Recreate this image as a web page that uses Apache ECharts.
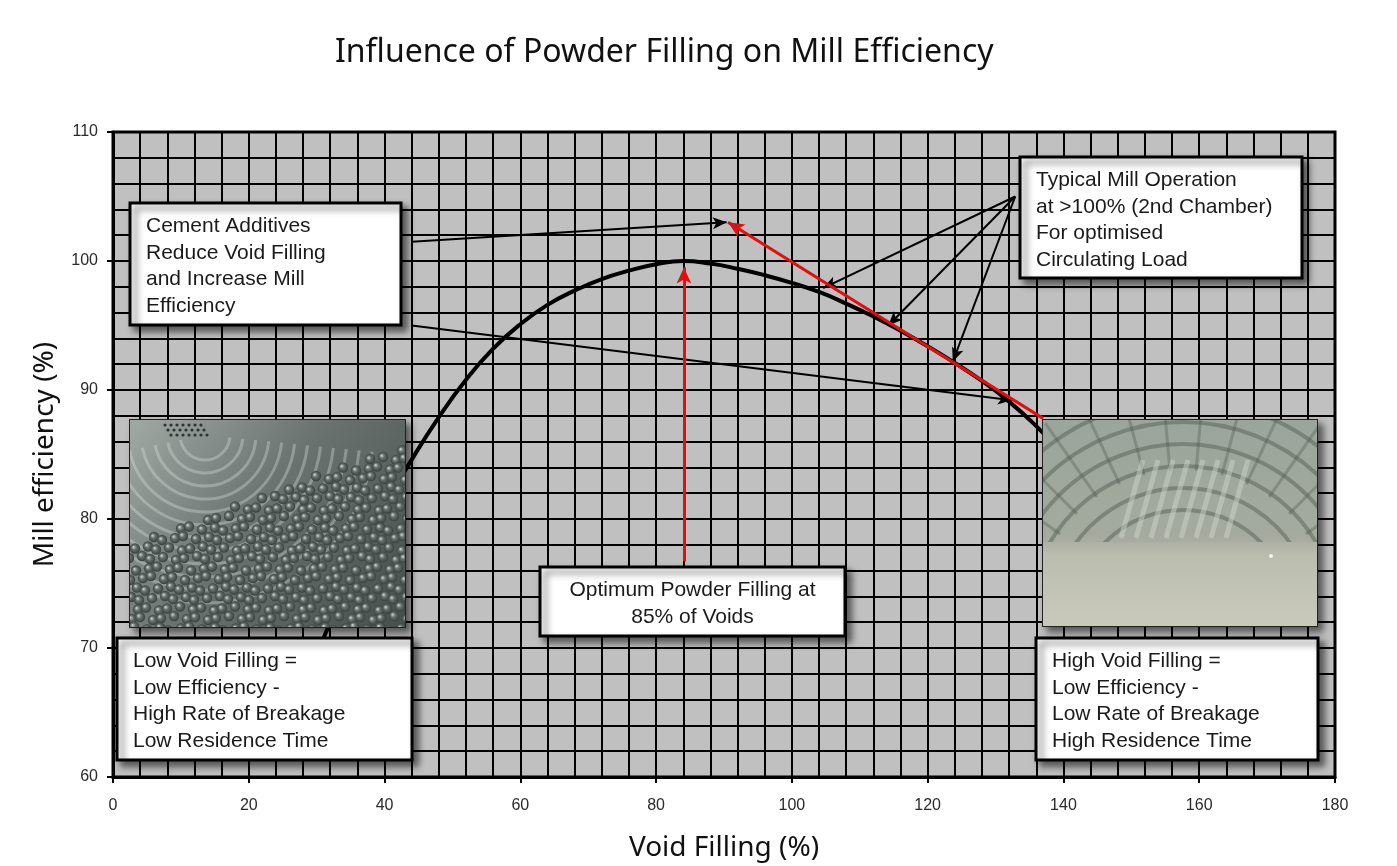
<!DOCTYPE html>
<html>
<head>
<meta charset="utf-8">
<title>Influence of Powder Filling on Mill Efficiency</title>
<script src="https://cdn.jsdelivr.net/npm/echarts@6/dist/echarts.min.js"></script>
<style>
  html, body { margin: 0; padding: 0; background: #fff; }
  #main { width: 1397px; height: 866px; }
</style>
</head>
<body>
<div id="main"></div>
<script>
// curve (void filling %, mill efficiency %)
var voidFilling = [28, 32, 36, 40, 44, 48, 52, 56, 60, 64, 68, 72, 76, 80, 84, 88, 92, 96, 100, 104, 108, 112, 116, 120, 124, 128, 132, 136, 140];
var millEfficiency = [67, 72, 76.8, 81, 84.6, 87.9, 90.8, 93.2, 95.1, 96.6, 97.7, 98.6, 99.25, 99.75, 100, 99.8, 99.4, 98.9, 98.3, 97.6, 96.7, 95.7, 94.6, 93.4, 92.1, 90.7, 89.1, 87.2, 85.0];

// axis ticks
var xTicks = [0, 20, 40, 60, 80, 100, 120, 140, 160, 180];
var yTicks = [60, 70, 80, 90, 100, 110];

// annotation arrows in data units: [x1, y1, x2, y2]
var blackArrows = [
  [44.0, 101.5, 90.4, 103.0],
  [44.0, 95.0, 132.4, 89.2],
  [132.9, 105.0, 104.6, 97.9],
  [132.9, 105.0, 114.2, 95.0],
  [132.9, 105.0, 123.7, 92.2]
];
var redArrows = [
  [137.0, 87.8, 90.6, 103.0],
  [84.1, 76.7, 84.1, 99.5]
];

var chart = echarts.init(document.getElementById('main'));

// little stand-ins for the two photos
function ballsPhoto(w, h) {
  var c = document.createElement('canvas');
  c.width = w; c.height = h;
  var g = c.getContext('2d');
  var bg = g.createLinearGradient(0, 0, w, h);
  bg.addColorStop(0, '#a1a9a5');
  bg.addColorStop(0.45, '#6a7370');
  bg.addColorStop(1, '#474f4d');
  g.fillStyle = bg;
  g.fillRect(0, 0, w, h);
  // liner rings
  g.strokeStyle = 'rgba(220,226,222,0.35)';
  g.lineWidth = 3;
  for (var r = 25; r < 170; r += 13) {
    g.beginPath();
    g.arc(75, 15, r, 0.1, Math.PI - 0.2);
    g.stroke();
  }
  // grate holes
  g.fillStyle = '#2f3533';
  for (var a = 0; a < 7; a++) {
    for (var b = 0; b < 3; b++) {
      g.beginPath();
      g.arc(35 + a * 6 + b * 3, 5 + b * 5, 1.6, 0, Math.PI * 2);
      g.fill();
    }
  }
  // balls
  var row = 0;
  for (var y = 18; y < h + 8; y += 10) {
    var off = (row % 2) * 5.5;
    for (var x = off; x < w + 8; x += 11) {
      var edge = 125 - x * 0.37;
      if (y < edge) continue;
      var jx = ((x * 7 + row * 13) % 5) - 2;
      var jy = ((x * 3 + row * 11) % 5) - 2;
      var cx = x + jx, cy = y + jy;
      var rg = g.createRadialGradient(cx - 1.5, cy - 1.5, 0.5, cx, cy, 5.5);
      rg.addColorStop(0, '#c2c6c3');
      rg.addColorStop(0.35, '#68716e');
      rg.addColorStop(1, '#363d3b');
      g.fillStyle = rg;
      g.beginPath();
      g.arc(cx, cy, 5.2, 0, Math.PI * 2);
      g.fill();
    }
    row++;
  }
  return c;
}

function diaphragmPhoto(w, h) {
  var c = document.createElement('canvas');
  c.width = w; c.height = h;
  var g = c.getContext('2d');
  var bg = g.createLinearGradient(0, 0, 0, h);
  bg.addColorStop(0, '#9aa59b');
  bg.addColorStop(0.55, '#a4aa9e');
  bg.addColorStop(1, '#c4c5b7');
  g.fillStyle = bg;
  g.fillRect(0, 0, w, h);
  var cx = 140, cy = 200;
  g.strokeStyle = 'rgba(80,88,80,0.45)';
  for (var r = 110; r < 240; r += 22) {
    g.lineWidth = 4;
    g.beginPath();
    g.arc(cx, cy, r, Math.PI, Math.PI * 2);
    g.stroke();
  }
  g.lineWidth = 3;
  g.strokeStyle = 'rgba(80,88,80,0.35)';
  for (var k = 0; k < 18; k++) {
    var t = Math.PI + (k + 0.5) * Math.PI / 18;
    g.beginPath();
    g.moveTo(cx + Math.cos(t) * 150, cy + Math.sin(t) * 150);
    g.lineTo(cx + Math.cos(t) * 240, cy + Math.sin(t) * 240);
    g.stroke();
  }
  g.strokeStyle = 'rgba(210,218,208,0.45)';
  g.lineWidth = 5;
  for (var m = 0; m < 8; m++) {
    g.beginPath();
    g.moveTo(100 + m * 15, 40);
    g.lineTo(78 + m * 15, 118);
    g.stroke();
  }
  var fl = g.createLinearGradient(0, 118, 0, h);
  fl.addColorStop(0, '#a9ad9f');
  fl.addColorStop(0.2, '#bbbdaf');
  fl.addColorStop(1, '#c9cabc');
  g.fillStyle = fl;
  g.fillRect(0, 122, w, h - 122);
  g.fillStyle = '#f4f4f0';
  g.beginPath();
  g.arc(228, 136, 2, 0, Math.PI * 2);
  g.fill();
  return c;
}

var textFont = '21px "Liberation Sans", Arial, sans-serif';
var shadow = { shadowBlur: 7, shadowOffsetX: 5, shadowOffsetY: 5, shadowColor: 'rgba(0,0,0,0.55)' };

function noteBox(x, y, w, h, text, center) {
  return {
    type: 'group',
    children: [
      { type: 'rect', z: 100, shape: { x: x, y: y, width: w, height: h },
        style: Object.assign({ fill: '#fff', stroke: '#000', lineWidth: 3 }, shadow) },
      { type: 'text', z: 101, style: {
          x: center ? x + w / 2 : x + 16, y: y + 10,
          text: text, font: textFont, fill: '#1a1a1a', lineHeight: 26.5,
          align: center ? 'center' : 'left', verticalAlign: 'top' } }
    ]
  };
}

function photo(x, y, w, h, img) {
  return {
    type: 'group',
    children: [
      { type: 'rect', z: 100, shape: { x: x, y: y, width: w, height: h },
        style: Object.assign({ fill: '#555', stroke: '#222', lineWidth: 2 }, shadow) },
      { type: 'image', z: 101, style: { image: img, x: x, y: y, width: w, height: h } }
    ]
  };
}

function arrowData(list, color, width, head) {
  return list.map(function (a) {
    return [
      { coord: [a[0], a[1]], symbol: 'none', lineStyle: { color: color, width: width, type: 'solid' } },
      { coord: [a[2], a[3]], symbol: 'arrow', symbolSize: head, itemStyle: { color: color }, lineStyle: { color: color, width: width, type: 'solid' } }
    ];
  });
}

var gridLine = { show: true, lineStyle: { color: '#000', width: 2 } };
var nameStyle = { fontFamily: 'Noto Sans', fontSize: 28, color: '#111' };
var tickStyle = { fontFamily: 'Liberation Sans', fontSize: 16, color: '#2a2a2a' };

var option = {
  animation: false,
  title: {
    text: 'Influence of Powder Filling on Mill Efficiency',
    left: 330, top: 32,
    textStyle: { fontFamily: 'Noto Sans', fontSize: 32, fontWeight: 'normal', color: '#111' }
  },
  grid: {
    left: 113, right: 62, top: 132, bottom: 89,
    outerBoundsMode: 'none', containLabel: false,
    show: true, backgroundColor: '#c0c0c0', borderColor: '#000', borderWidth: 3
  },
  xAxis: {
    type: 'value', min: xTicks[0], max: xTicks[xTicks.length - 1], interval: xTicks[1] - xTicks[0],
    name: 'Void Filling (%)', nameLocation: 'middle', nameGap: 57,
    nameTextStyle: nameStyle,
    axisLine: { show: true, onZero: false, lineStyle: { color: '#000', width: 3 } },
    axisTick: { show: true, length: 6, lineStyle: { color: '#000', width: 2 } },
    axisLabel: Object.assign({ margin: 21 }, tickStyle),
    splitLine: gridLine,
    minorTick: { show: false, splitNumber: 5 },
    minorSplitLine: gridLine
  },
  yAxis: {
    type: 'value', min: yTicks[0], max: yTicks[yTicks.length - 1], interval: yTicks[1] - yTicks[0],
    name: 'Mill efficiency (%)', nameLocation: 'middle', nameGap: 54,
    nameTextStyle: nameStyle,
    axisLine: { show: true, onZero: false, lineStyle: { color: '#000', width: 3 } },
    axisTick: { show: true, length: 6, lineStyle: { color: '#000', width: 2 } },
    axisLabel: Object.assign({ margin: 15 }, tickStyle),
    splitLine: gridLine,
    minorTick: { show: false, splitNumber: 5 },
    minorSplitLine: gridLine
  },
  series: [{
    type: 'line',
    data: voidFilling.map(function (v, i) { return [v, millEfficiency[i]]; }),
    smooth: 0.5, symbol: 'none', z: 3,
    lineStyle: { color: '#000', width: 4 },
    markLine: {
      silent: true, animation: false,
      label: { show: false },
      data: arrowData(blackArrows, '#000', 2, [9, 14]).concat(arrowData(redArrows, '#e01010', 3, [11, 16]))
    }
  }],
  graphic: [
    photo(130, 420, 275, 207, ballsPhoto(275, 207)),
    photo(1043, 420, 274, 206, diaphragmPhoto(274, 206)),
    noteBox(130, 203, 271, 122, 'Cement Additives\nReduce Void Filling\nand Increase Mill\nEfficiency'),
    noteBox(540, 567, 305, 69, 'Optimum Powder Filling at\n85% of Voids', true),
    noteBox(1020, 157, 282, 121, 'Typical Mill Operation\nat >100% (2nd Chamber)\nFor optimised\nCirculating Load'),
    noteBox(117, 638, 295, 122, 'Low Void Filling =\nLow Efficiency -\nHigh Rate of Breakage\nLow Residence Time'),
    noteBox(1036, 638, 282, 122, 'High Void Filling =\nLow Efficiency -\nLow Rate of Breakage\nHigh Residence Time')
  ]
};

chart.setOption(option);
</script>
</body>
</html>
